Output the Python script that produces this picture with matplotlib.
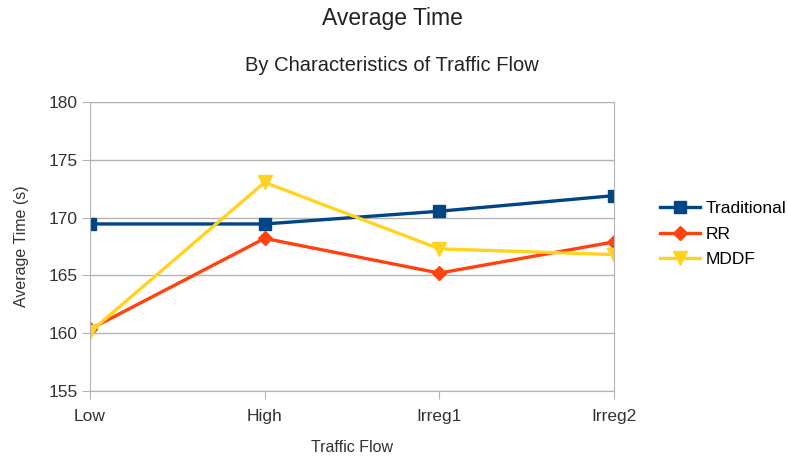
import matplotlib.pyplot as plt
import numpy as np

plt.rcParams['font.family'] = ['Liberation Sans', 'DejaVu Sans']

categories = ['Low', 'High', 'Irreg1', 'Irreg2']
traditional = [169.45, 169.45, 170.55, 171.9]
rr = [160.35, 168.2, 165.2, 167.9]
mddf = [160.1, 173.05, 167.3, 166.8]

fig = plt.figure(figsize=(7.88, 4.62), dpi=100)
ax = fig.add_axes([90/788, 71/462, 524/788, 289/462])

x = np.arange(len(categories))
ax.plot(x, traditional, '-s', color='#004586', lw=2.4, ms=9, label='Traditional')
ax.plot(x, rr, '-D', color='#ff420e', lw=2.4, ms=7, label='RR')
ax.plot(x, mddf, '-v', color='#ffd320', lw=2.4, ms=10, label='MDDF')

ax.set_xlim(0, 3)
ax.set_ylim(155, 180)
ax.set_yticks(np.arange(155, 181, 5))
ax.set_xticks(x)
ax.set_xticklabels(categories)
ax.yaxis.grid(True, color='#b3b3b3', lw=1)
ax.set_axisbelow(True)
for s in ax.spines.values():
    s.set_color('#b3b3b3')
ax.tick_params(colors='#b3b3b3', labelcolor='#333333', labelsize=12.5, length=6)
ax.tick_params(axis='x', pad=7)
ax.tick_params(axis='y', pad=3)

ax.set_xlabel('Traffic Flow', fontsize=11.5, color='#333333')
ax.xaxis.set_label_coords(0.5, -(440 - 391) / 289)
ax.set_ylabel('Average Time (s)', fontsize=11.5, color='#333333')
ax.yaxis.set_label_coords(-(90 - 29) / 524, 0.5)

fig.text(392/788, 1 - 18/462, 'Average Time', ha='center', va='center', fontsize=16.5, color='#222222')
fig.text(392/788, 1 - 66/462, 'By Characteristics of Traffic Flow', ha='center', va='center', fontsize=14.5, color='#222222')

ax.legend(loc='center left', bbox_to_anchor=(1.088, 0.543), frameon=False, fontsize=12.5,
          handlelength=2.3, handletextpad=0.3, labelspacing=0.58, borderaxespad=0, borderpad=0)

fig.savefig('out.png', dpi=100)
